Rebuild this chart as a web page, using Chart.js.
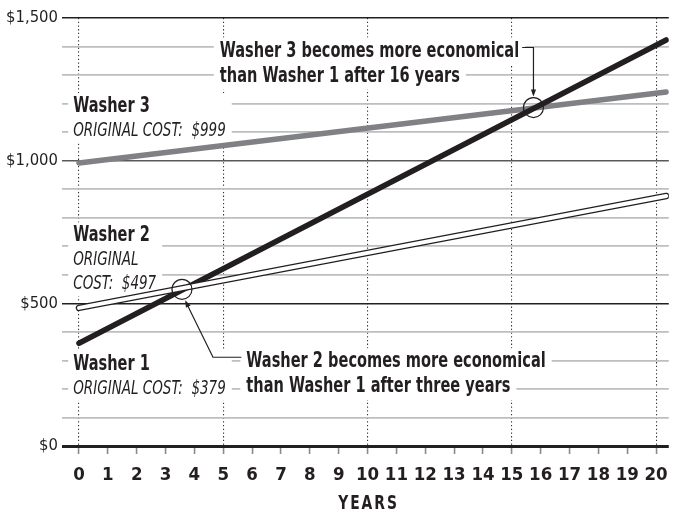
<!DOCTYPE html>
<html lang="en">
<head>
  <meta charset="UTF-8" />
  <title>Washer cost over time</title>
  <script src="https://cdn.jsdelivr.net/npm/chart.js"></script>
  <style>
    body { margin: 0; background: #fff; }
    #wrap { width: 680px; height: 513px; }
  </style>
</head>
<body>
  <div id="wrap"><canvas id="costChart" width="680" height="513"></canvas></div>

  <script>
    // values
    const lineYears = [0, 20.35];
    const washer1 = [360, 1423];
    const washer2 = [484, 876];
    const washer3 = [992, 1241];
    const crossYears = [3.57, 15.75];
    const crossCosts = [549, 1186];
    const yearTicks = [0, 1, 2, 3, 4, 5, 6, 7, 8, 9, 10, 11, 12, 13, 14, 15, 16, 17, 18, 19, 20];

    const INK = '#231f20';
    const NARROW = "'Liberation Sans Narrow', 'DejaVu Sans Condensed', 'Arial Narrow', sans-serif";
    const SQUEEZE = 0.79; // the original face is much narrower than DejaVu Condensed

    // text labels: [x year, y cost, lines]
    const seriesLabels = [
      { x: -0.2, y: 1170, lines: [['b', 'Washer 3'], ['i', 'ORIGINAL COST:  $999']] },
      { x: -0.2, y: 717, lines: [['b', 'Washer 2'], ['i', 'ORIGINAL'], ['i', 'COST:  $497']] },
      { x: -0.2, y: 267, lines: [['b', 'Washer 1'], ['i', 'ORIGINAL COST:  $379']] }
    ];
    const notes = [
      { x: 4.88, y: 1365, lines: ['Washer 3 becomes more economical', 'than Washer 1 after 16 years'] },
      { x: 5.8, y: 276, lines: ['Washer 2 becomes more economical', 'than Washer 1 after three years'] }
    ];

    function pts(xs, ys) { return xs.map((x, i) => ({ x: x, y: ys[i] })); }

    function fontFor(s) { return (s === 'b' ? 'bold 20.5px ' : 'italic 19px ') + NARROW; }

    function narrowWidth(ctx, t) { return ctx.measureText(t).width * SQUEEZE; }

    function narrowText(ctx, t, x, y) {
      ctx.save();
      ctx.translate(x, y);
      ctx.scale(SQUEEZE, 1);
      ctx.fillText(t, 0, 0);
      ctx.restore();
    }

    function arrowHead(ctx, x, y, ang) {
      ctx.beginPath();
      ctx.moveTo(x, y);
      ctx.lineTo(x - 7 * Math.cos(ang) + 2.6 * Math.sin(ang), y - 7 * Math.sin(ang) - 2.6 * Math.cos(ang));
      ctx.lineTo(x - 7 * Math.cos(ang) - 2.6 * Math.sin(ang), y - 7 * Math.sin(ang) + 2.6 * Math.cos(ang));
      ctx.closePath();
      ctx.fill();
    }

    const labelPlugin = {
      id: 'labels',
      beforeDatasetsDraw(chart) {
        const ctx = chart.ctx, xs = chart.scales.x, ys = chart.scales.y;
        ctx.save();
        ctx.textBaseline = 'alphabetic';
        // series labels, one white block each
        seriesLabels.forEach(l => {
          const x0 = xs.getPixelForValue(l.x), y0 = ys.getPixelForValue(l.y);
          let w = 0;
          l.lines.forEach(([s, t]) => {
            ctx.font = fontFor(s);
            w = Math.max(w, narrowWidth(ctx, t));
          });
          ctx.fillStyle = '#fff';
          ctx.fillRect(x0 - 5, y0 - 19, w + 11, (l.lines.length - 1) * 24 + 26);
          ctx.fillStyle = INK;
          l.lines.forEach(([s, t], i) => {
            ctx.font = fontFor(s);
            narrowText(ctx, t, x0, y0 + i * 24);
          });
        });
        // notes, one white box per line
        notes.forEach(n => {
          const x0 = xs.getPixelForValue(n.x), y0 = ys.getPixelForValue(n.y);
          ctx.font = 'bold 20.5px ' + NARROW;
          n.lines.forEach((t, i) => {
            const w = narrowWidth(ctx, t);
            const yb = y0 + i * 25;
            ctx.fillStyle = '#fff';
            ctx.fillRect(x0 - 6, yb - 19, w + 12, 27);
            ctx.fillStyle = INK;
            narrowText(ctx, t, x0, yb);
          });
        });
        ctx.restore();
      },
      afterDatasetsDraw(chart) {
        const ctx = chart.ctx, xs = chart.scales.x, ys = chart.scales.y;
        ctx.save();
        ctx.strokeStyle = INK;
        ctx.fillStyle = INK;
        ctx.lineWidth = 1.2;
        // leader to the 16-year crossing
        const c3x = xs.getPixelForValue(crossYears[1]), c3y = ys.getPixelForValue(crossCosts[1]);
        const n3 = notes[0];
        ctx.font = 'bold 20.5px ' + NARROW;
        const e3 = xs.getPixelForValue(n3.x) + narrowWidth(ctx, n3.lines[0]) + 3;
        const h3 = ys.getPixelForValue(n3.y) - 9;
        ctx.beginPath();
        ctx.moveTo(e3, h3);
        ctx.lineTo(c3x, h3);
        ctx.lineTo(c3x, c3y - 13);
        ctx.stroke();
        arrowHead(ctx, c3x, c3y - 11, Math.PI / 2);
        // leader to the 3-year crossing
        const c2x = xs.getPixelForValue(crossYears[0]), c2y = ys.getPixelForValue(crossCosts[0]);
        const n2 = notes[1];
        const sx = xs.getPixelForValue(n2.x) - 5, sy = ys.getPixelForValue(n2.y) - 10;
        const kx = c2x + 31;
        ctx.beginPath();
        ctx.moveTo(sx, sy);
        ctx.lineTo(kx, sy);
        ctx.lineTo(c2x + 4, c2y + 13);
        ctx.stroke();
        const ang = Math.atan2((c2y + 11) - sy, (c2x + 3) - kx);
        arrowHead(ctx, c2x + 3.2, c2y + 11, ang);
        // axis title
        ctx.font = 'bold 19.5px ' + NARROW;
        ctx.letterSpacing = '2.5px';
        ctx.textAlign = 'center';
        ctx.textBaseline = 'middle';
        narrowText(ctx, 'YEARS', xs.getPixelForValue(10) + 1, 504);
        ctx.restore();
      }
    };

    new Chart(document.getElementById('costChart'), {
      type: 'line',
      data: {
        datasets: [
          {
            label: 'Crossings', type: 'scatter', data: pts(crossYears, crossCosts),
            pointRadius: 10, pointHoverRadius: 10, borderColor: INK, borderWidth: 1.2,
            backgroundColor: 'rgba(0,0,0,0)', showLine: false, order: 0
          },
          {
            label: 'Washer 2', data: pts(lineYears, washer2), borderColor: '#fff', borderWidth: 4,
            borderCapStyle: 'round', pointRadius: 0, order: 1
          },
          {
            label: 'Washer 2 edge', data: pts(lineYears, washer2), borderColor: INK, borderWidth: 6.5,
            borderCapStyle: 'round', pointRadius: 0, order: 2
          },
          {
            label: 'Washer 1', data: pts(lineYears, washer1), borderColor: INK, borderWidth: 5.5,
            borderCapStyle: 'round', pointRadius: 0, order: 3
          },
          {
            label: 'Washer 3', data: pts(lineYears, washer3), borderColor: '#808184', borderWidth: 5.5,
            borderCapStyle: 'round', pointRadius: 0, order: 4
          }
        ]
      },
      options: {
        responsive: false,
        animation: false,
        events: [],
        layout: { padding: { top: 18, right: 10, left: 0, bottom: 0 } },
        plugins: { legend: { display: false }, tooltip: { enabled: false } },
        scales: {
          x: {
            type: 'linear',
            min: -0.588,
            max: 20.44,
            afterBuildTicks: s => { s.ticks = yearTicks.map(v => ({ value: v })); },
            afterFit: s => { s.height = 67; },
            border: { display: false, dash: [1.3, 2.4] },
            grid: {
              color: c => (c.tick && c.tick.value % 5 === 0) ? '#333' : 'rgba(0,0,0,0)',
              lineWidth: 1.1,
              tickColor: '#8a8a8a',
              tickWidth: 1.6,
              tickLength: 8
            },
            ticks: {
              autoSkip: false,
              maxRotation: 0,
              padding: 10,
              color: INK,
              font: { family: NARROW, size: 18.5, weight: 'bold' },
              callback: v => String(v)
            }
          },
          y: {
            min: 0,
            max: 1500,
            afterBuildTicks: s => {
              const t = [];
              for (let v = 0; v <= 1500; v += 100) t.push({ value: v });
              s.ticks = t;
            },
            afterFit: s => { s.width = 62; },
            border: { display: false },
            grid: {
              drawTicks: false,
              color: c => {
                const v = c.tick.value;
                if (v === 1000) return '#58595b';
                return v % 500 === 0 ? INK : '#bcbec0';
              },
              lineWidth: c => c.tick.value === 0 ? 3 : (c.tick.value % 500 === 0 ? 1.5 : 1.8)
            },
            ticks: {
              autoSkip: false,
              padding: 4,
              color: INK,
              font: { family: NARROW, size: 16.5 },
              callback: v => v % 500 === 0 ? '$' + v.toLocaleString('en-US') : ''
            }
          }
        }
      },
      plugins: [labelPlugin]
    });
  </script>
</body>
</html>
